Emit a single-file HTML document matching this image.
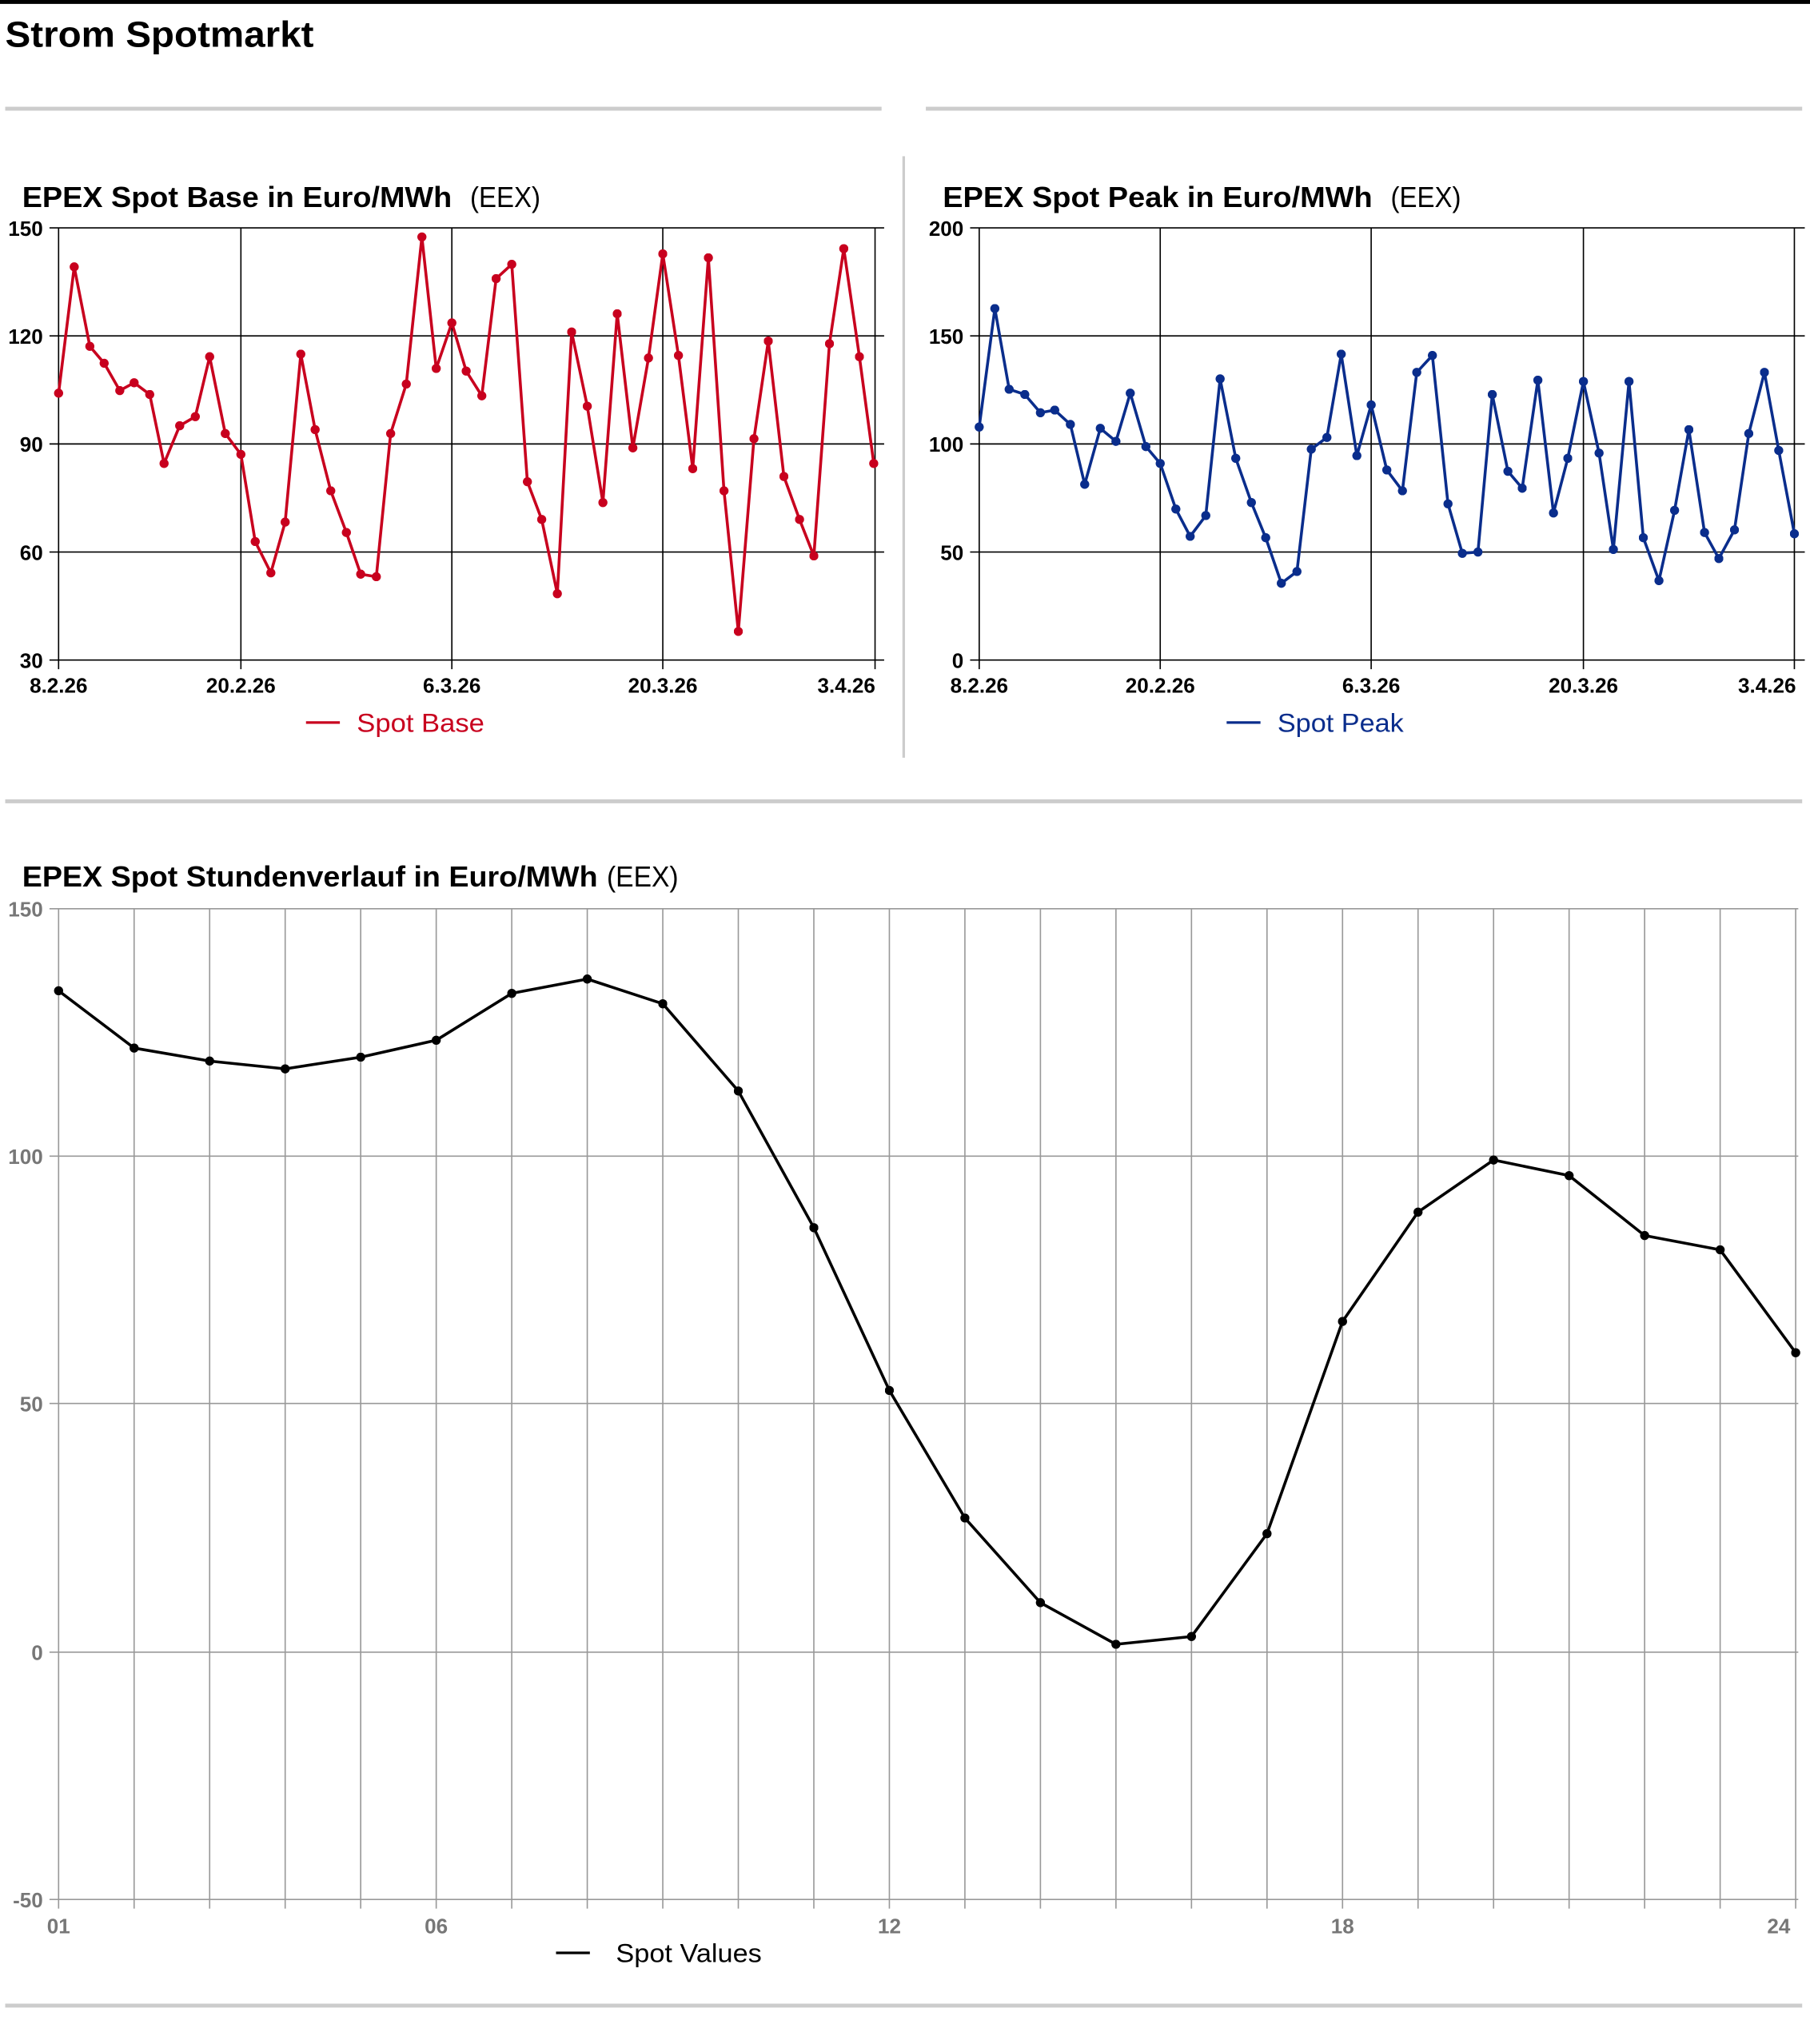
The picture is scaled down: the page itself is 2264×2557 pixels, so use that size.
<!DOCTYPE html>
<html><head><meta charset="utf-8"><style>
html,body{margin:0;padding:0;background:#fff}
svg{display:block}
text{font-family:"Liberation Sans",sans-serif}
.t{font-size:22px;font-weight:bold}
.e{font-size:22px}
.yl{font-family:"Liberation Sans Narrow","Liberation Sans",sans-serif;font-weight:bold;font-size:16px;text-anchor:end}
.xl{font-family:"Liberation Sans Narrow","Liberation Sans",sans-serif;font-weight:bold;font-size:16px;text-anchor:middle}
</style></head><body>
<svg width="2264" height="2557" viewBox="0 0 1390 1570" preserveAspectRatio="none" xmlns="http://www.w3.org/2000/svg">
<defs>
<marker id="mr" viewBox="0 0 10 10" refX="5" refY="5" markerWidth="7" markerHeight="7" markerUnits="userSpaceOnUse"><circle cx="5" cy="5" r="5" fill="#c8001e"/></marker>
<marker id="mb" viewBox="0 0 10 10" refX="5" refY="5" markerWidth="7" markerHeight="7" markerUnits="userSpaceOnUse"><circle cx="5" cy="5" r="5" fill="#0a2d8c"/></marker>
<marker id="mk" viewBox="0 0 10 10" refX="5" refY="5" markerWidth="7" markerHeight="7" markerUnits="userSpaceOnUse"><circle cx="5" cy="5" r="5" fill="#000"/></marker>
</defs>
<rect x="0" y="0" width="1390" height="3" fill="#000"/>
<text x="4" y="36" style="font-size:28px;font-weight:bold" textLength="237" lengthAdjust="spacingAndGlyphs">Strom Spotmarkt</text>
<rect x="4" y="82" width="673" height="3" fill="#ccc"/>
<rect x="711" y="82" width="673" height="3" fill="#ccc"/>
<rect x="693" y="120" width="2" height="462" fill="#ccc"/>
<rect x="4" y="614" width="1380" height="3" fill="#ccc"/>
<rect x="4" y="1539" width="1380" height="3" fill="#ccc"/>

<!-- Chart 1 -->
<text x="17" y="159" class="t" textLength="330" lengthAdjust="spacingAndGlyphs">EPEX Spot Base in Euro/MWh</text>
<text x="361" y="159" class="e" textLength="54" lengthAdjust="spacingAndGlyphs">(EEX)</text>
<g stroke="#000" stroke-width="1">
<line x1="38" y1="175" x2="679" y2="175"/><line x1="38" y1="258" x2="679" y2="258"/><line x1="38" y1="341" x2="679" y2="341"/><line x1="38" y1="424" x2="679" y2="424"/><line x1="38" y1="507" x2="679" y2="507"/>
<line x1="45" y1="175" x2="45" y2="514"/><line x1="185" y1="175" x2="185" y2="514"/><line x1="347" y1="175" x2="347" y2="514"/><line x1="509" y1="175" x2="509" y2="514"/><line x1="672" y1="175" x2="672" y2="514"/>
</g>
<g class="yl"><text x="33" y="181">150</text><text x="33" y="264">120</text><text x="33" y="347">90</text><text x="33" y="430">60</text><text x="33" y="513">30</text></g>
<g class="xl"><text x="45" y="532">8.2.26</text><text x="185" y="532">20.2.26</text><text x="347" y="532">6.3.26</text><text x="509" y="532">20.3.26</text><text x="650" y="532">3.4.26</text></g>
<polyline fill="none" stroke="#c8001e" stroke-width="2.2" stroke-linejoin="round" marker-start="url(#mr)" marker-mid="url(#mr)" marker-end="url(#mr)" points="45,302 57,205 69,266 80,279 92,300 103,294 115,303 126,356 138,327 150,320 161,274 173,333 185,349 196,416 208,440 219,401 231,272 242,330 254,377 266,409 277,441 289,443 300,333 312,295 324,182 335,283 347,248 358,285 370,304 381,214 393,203 405,370 416,399 428,456 439,255 451,312 463,386 474,241 486,344 498,275 509,195 521,273 532,360 544,198 556,377 567,485 579,337 590,262 602,366 614,399 625,427 637,264 648,191 660,274 671,356"/>
<line x1="235" y1="555" x2="261" y2="555" stroke="#c8001e" stroke-width="2"/>
<text x="274" y="562" fill="#c8001e" style="font-size:20px" textLength="98" lengthAdjust="spacingAndGlyphs">Spot Base</text>

<!-- Chart 2 -->
<text x="724" y="159" class="t" textLength="330" lengthAdjust="spacingAndGlyphs">EPEX Spot Peak in Euro/MWh</text>
<text x="1068" y="159" class="e" textLength="54" lengthAdjust="spacingAndGlyphs">(EEX)</text>
<g stroke="#000" stroke-width="1">
<line x1="745" y1="175" x2="1386" y2="175"/><line x1="745" y1="258" x2="1386" y2="258"/><line x1="745" y1="341" x2="1386" y2="341"/><line x1="745" y1="424" x2="1386" y2="424"/><line x1="745" y1="507" x2="1386" y2="507"/>
<line x1="752" y1="175" x2="752" y2="514"/><line x1="891" y1="175" x2="891" y2="514"/><line x1="1053" y1="175" x2="1053" y2="514"/><line x1="1216" y1="175" x2="1216" y2="514"/><line x1="1378" y1="175" x2="1378" y2="514"/>
</g>
<g class="yl"><text x="740" y="181">200</text><text x="740" y="264">150</text><text x="740" y="347">100</text><text x="740" y="430">50</text><text x="740" y="513">0</text></g>
<g class="xl"><text x="752" y="532">8.2.26</text><text x="891" y="532">20.2.26</text><text x="1053" y="532">6.3.26</text><text x="1216" y="532">20.3.26</text><text x="1357" y="532">3.4.26</text></g>
<polyline fill="none" stroke="#0a2d8c" stroke-width="2.2" stroke-linejoin="round" marker-start="url(#mb)" marker-mid="url(#mb)" marker-end="url(#mb)" points="752,328 764,237 775,299 787,303 799,317 810,315 822,326 833,372 845,329 857,339 868,302 880,343 891,356 903,391 914,412 926,396 937,291 949,352 961,386 972,413 984,448 996,439 1007,345 1019,336 1030,272 1042,350 1053,311 1065,361 1077,377 1088,286 1100,273 1112,387 1123,425 1135,424 1146,303 1158,362 1169,375 1181,292 1193,394 1204,352 1216,293 1228,348 1239,422 1251,293 1262,413 1274,446 1286,392 1297,330 1309,409 1320,429 1332,407 1343,333 1355,286 1366,346 1378,410"/>
<line x1="942" y1="555" x2="968" y2="555" stroke="#0a2d8c" stroke-width="2"/>
<text x="981" y="562" fill="#0a2d8c" style="font-size:20px" textLength="97" lengthAdjust="spacingAndGlyphs">Spot Peak</text>

<!-- Chart 3 -->
<text x="17" y="681" class="t" textLength="442" lengthAdjust="spacingAndGlyphs">EPEX Spot Stundenverlauf in Euro/MWh</text>
<text x="466" y="681" class="e" textLength="55" lengthAdjust="spacingAndGlyphs">(EEX)</text>
<g stroke="#999" stroke-width="1">
<line x1="38" y1="698" x2="1381" y2="698"/><line x1="38" y1="888" x2="1381" y2="888"/><line x1="38" y1="1078" x2="1381" y2="1078"/><line x1="38" y1="1269" x2="1381" y2="1269"/><line x1="38" y1="1459" x2="1381" y2="1459"/>
<line x1="45" y1="698" x2="45" y2="1466"/><line x1="103" y1="698" x2="103" y2="1466"/><line x1="161" y1="698" x2="161" y2="1466"/><line x1="219" y1="698" x2="219" y2="1466"/><line x1="277" y1="698" x2="277" y2="1466"/><line x1="335" y1="698" x2="335" y2="1466"/><line x1="393" y1="698" x2="393" y2="1466"/><line x1="451" y1="698" x2="451" y2="1466"/><line x1="509" y1="698" x2="509" y2="1466"/><line x1="567" y1="698" x2="567" y2="1466"/><line x1="625" y1="698" x2="625" y2="1466"/><line x1="683" y1="698" x2="683" y2="1466"/><line x1="741" y1="698" x2="741" y2="1466"/><line x1="799" y1="698" x2="799" y2="1466"/><line x1="857" y1="698" x2="857" y2="1466"/><line x1="915" y1="698" x2="915" y2="1466"/><line x1="973" y1="698" x2="973" y2="1466"/><line x1="1031" y1="698" x2="1031" y2="1466"/><line x1="1089" y1="698" x2="1089" y2="1466"/><line x1="1147" y1="698" x2="1147" y2="1466"/><line x1="1205" y1="698" x2="1205" y2="1466"/><line x1="1263" y1="698" x2="1263" y2="1466"/><line x1="1321" y1="698" x2="1321" y2="1466"/><line x1="1379" y1="698" x2="1379" y2="1466"/>
</g>
<g class="yl" fill="#777"><text x="33" y="704">150</text><text x="33" y="894">100</text><text x="33" y="1084">50</text><text x="33" y="1275">0</text><text x="33" y="1465">-50</text></g>
<g class="xl" fill="#777"><text x="45" y="1485">01</text><text x="335" y="1485">06</text><text x="683" y="1485">12</text><text x="1031" y="1485">18</text><text x="1366" y="1485">24</text></g>
<polyline fill="none" stroke="#000" stroke-width="2.2" stroke-linejoin="round" marker-start="url(#mk)" marker-mid="url(#mk)" marker-end="url(#mk)" points="45,761 103,805 161,815 219,821 277,812 335,799 393,763 451,752 509,771 567,838 625,943 683,1068 741,1166 799,1231 857,1263 915,1257 973,1178 1031,1015 1089,931 1147,891 1205,903 1263,949 1321,960 1379,1039"/>
<line x1="427" y1="1500" x2="453" y2="1500" stroke="#000" stroke-width="2"/>
<text x="473" y="1507" style="font-size:20px" textLength="112" lengthAdjust="spacingAndGlyphs">Spot Values</text>
</svg>
</body></html>
